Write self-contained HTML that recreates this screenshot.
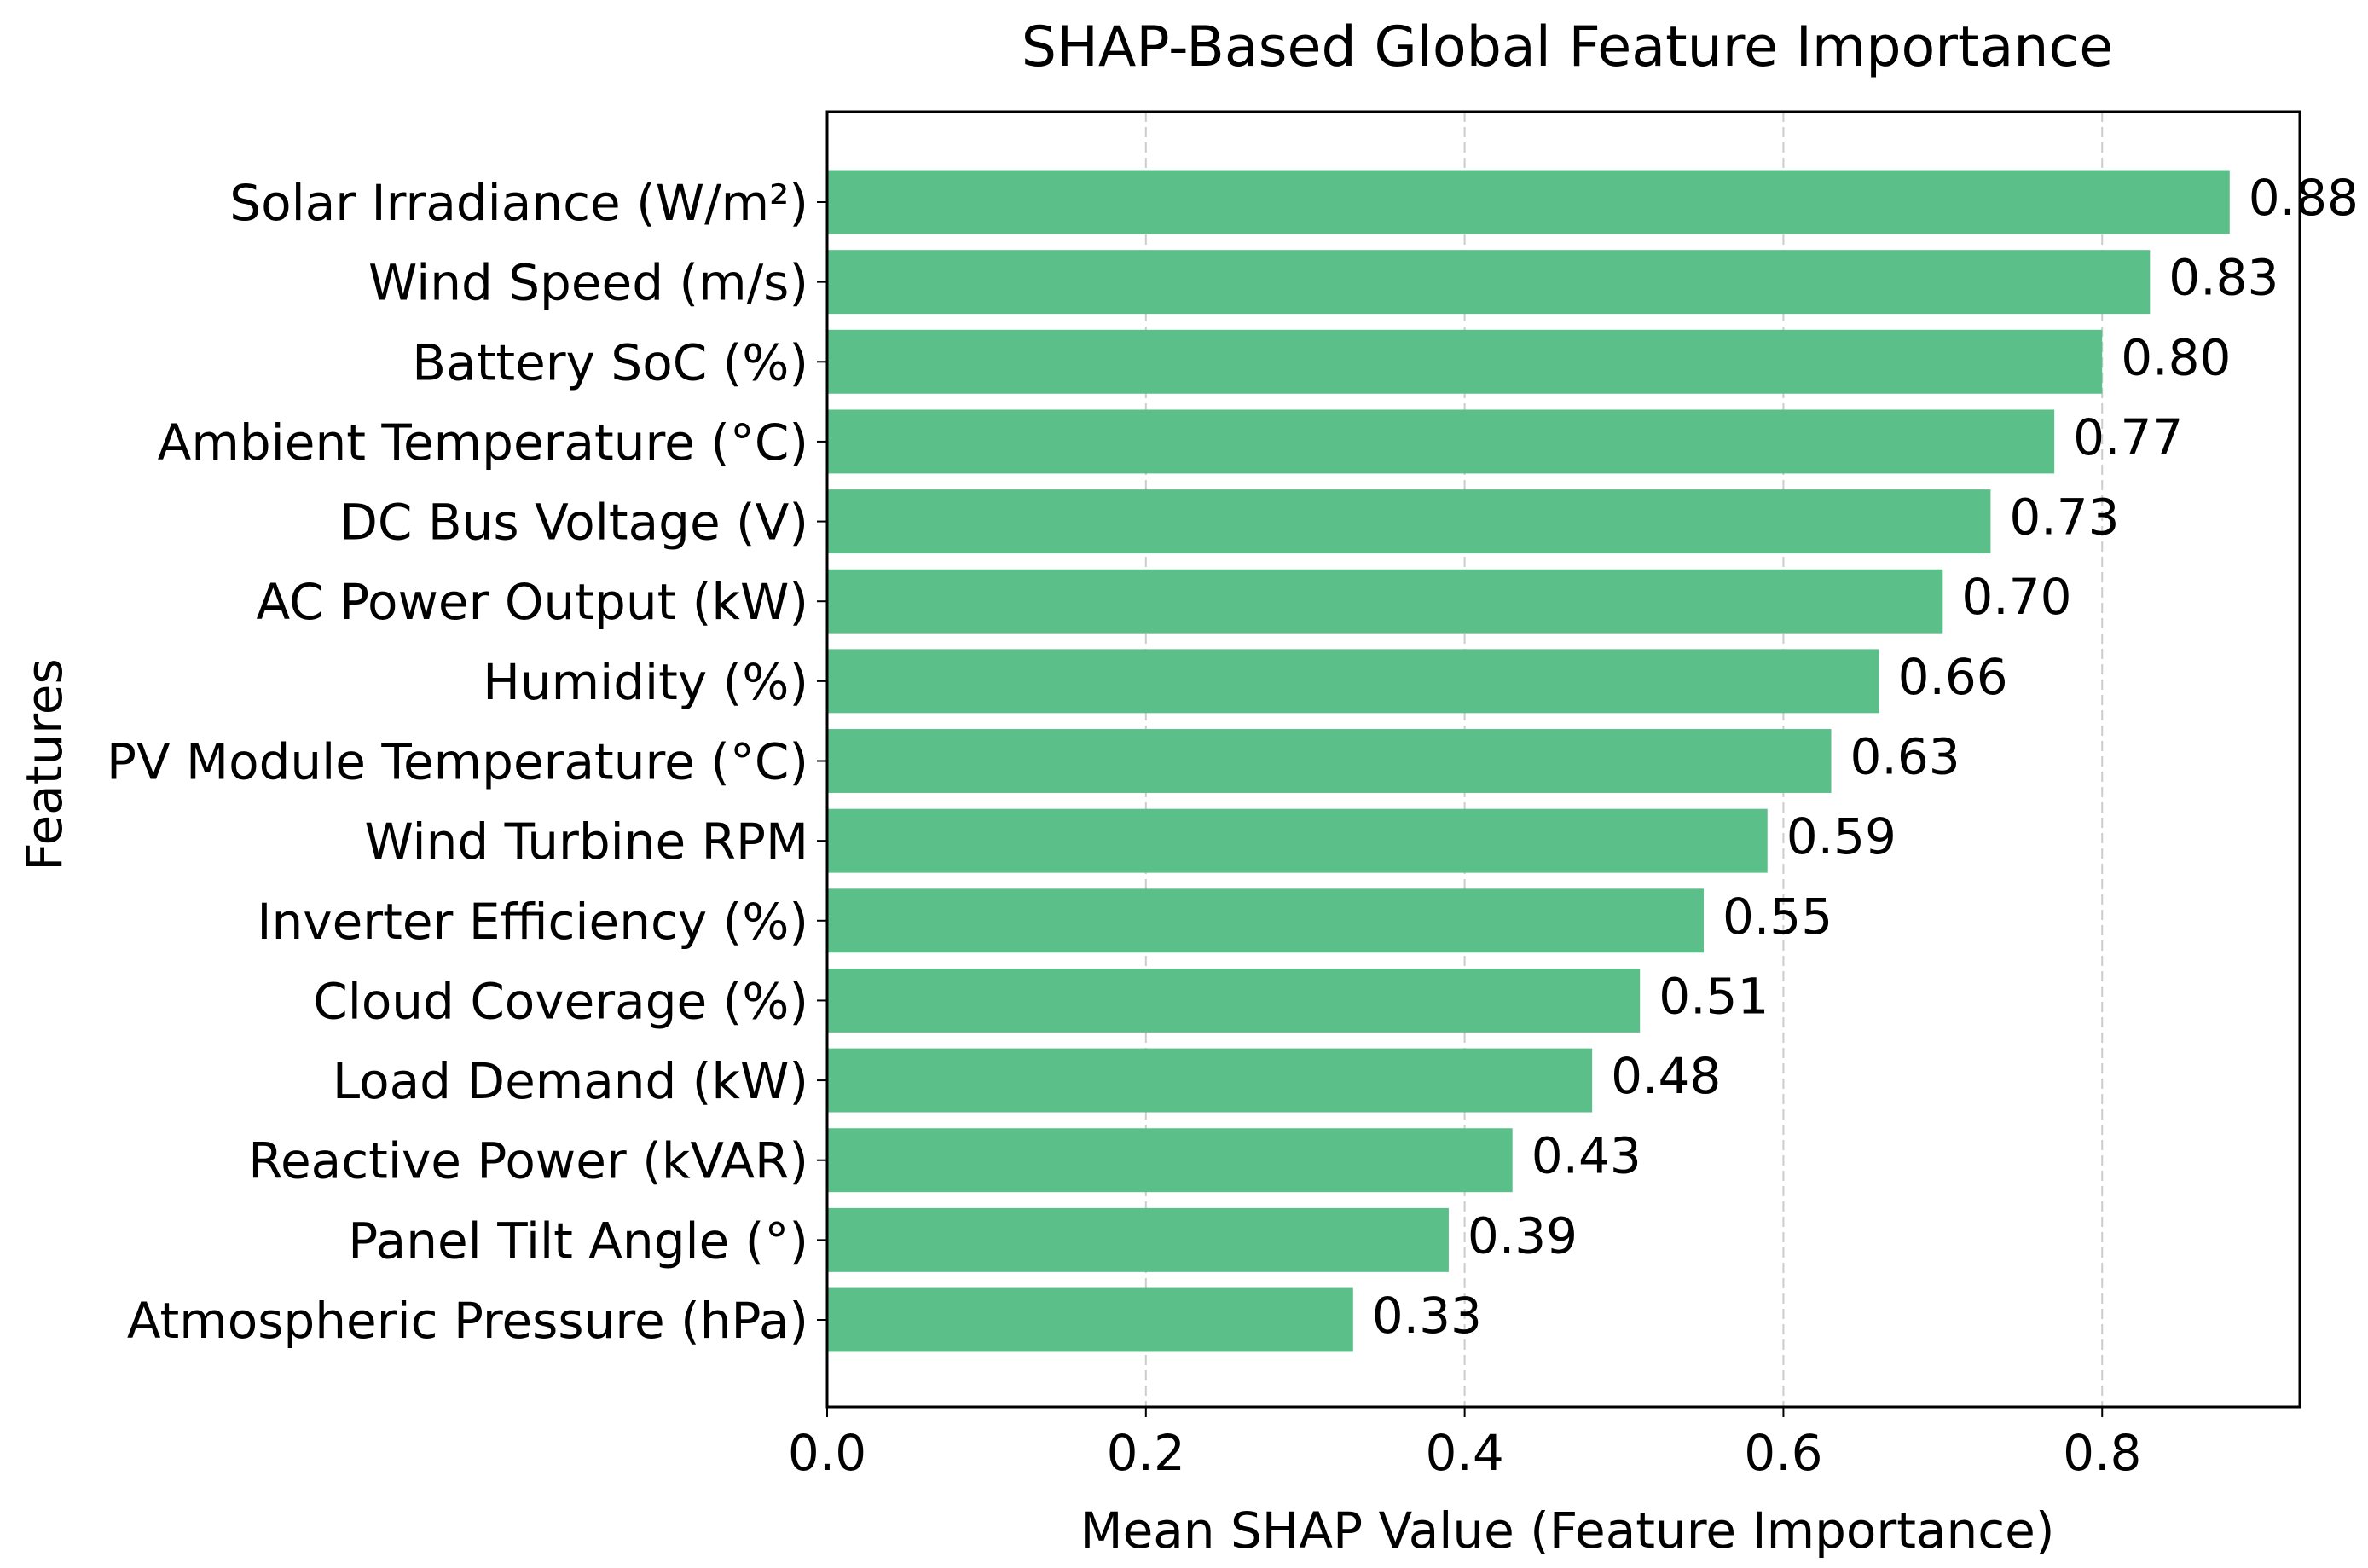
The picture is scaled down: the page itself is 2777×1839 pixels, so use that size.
<!DOCTYPE html>
<html><head><meta charset="utf-8"><style>
html,body{margin:0;padding:0;background:#fff;}
svg{display:block;font-family:"DejaVu Sans","Liberation Sans",sans-serif;}
</style></head><body>
<svg id="chart" width="2777" height="1839" viewBox="0 0 2777 1839" xmlns="http://www.w3.org/2000/svg">
<rect width="2777" height="1839" fill="#fff"/>
<text x="1838" y="77" font-size="65" text-anchor="middle" fill="#000">SHAP-Based Global Feature Importance</text>
<g id="grid"></g>
<g id="bars"></g>
<rect x="970" y="131" width="1727" height="1519" fill="none" stroke="#000" stroke-width="3"/>
<g id="xticks"></g>
<g id="yticks"></g>
<text x="1838" y="1815" font-size="58" text-anchor="middle" fill="#000">Mean SHAP Value (Feature Importance)</text>
<text transform="translate(72,897) rotate(-90)" font-size="58" text-anchor="middle" fill="#000">Features</text>
</svg>
<script>
const categories = ["Solar Irradiance (W/m²)","Wind Speed (m/s)","Battery SoC (%)","Ambient Temperature (°C)","DC Bus Voltage (V)","AC Power Output (kW)","Humidity (%)","PV Module Temperature (°C)","Wind Turbine RPM","Inverter Efficiency (%)","Cloud Coverage (%)","Load Demand (kW)","Reactive Power (kVAR)","Panel Tilt Angle (°)","Atmospheric Pressure (hPa)"];
const values = [0.88,0.83,0.80,0.77,0.73,0.70,0.66,0.63,0.59,0.55,0.51,0.48,0.43,0.39,0.33];
const valueLabels = ["0.88","0.83","0.80","0.77","0.73","0.70","0.66","0.63","0.59","0.55","0.51","0.48","0.43","0.39","0.33"];
const xTicks = [0,0.2,0.4,0.6,0.8];
const xTickLabels = ["0.0","0.2","0.4","0.6","0.8"];

const NS="http://www.w3.org/2000/svg";
const L=970,R=2697,T=131,B=1650;
const xMax=Math.max(...values)*1.05;
const x=v=>L+v/xMax*(R-L);
const n=categories.length;
const y0=237, pitch=(1548-237)/14;
const y=i=>y0+i*pitch;
const bh=0.8*pitch;
function mk(tag,attrs,parent){const e=document.createElementNS(NS,tag);for(const k in attrs)e.setAttribute(k,attrs[k]);parent.appendChild(e);return e;}
const grid=document.getElementById('grid'),bars=document.getElementById('bars'),xt=document.getElementById('xticks'),yt=document.getElementById('yticks');
xTicks.forEach((t,i)=>{
  const g=mk('line',{x1:x(t),x2:x(t),y1:T,y2:B,stroke:'#cccccc','stroke-width':2,'stroke-dasharray':'12,6'},grid);
  
  
  const tk=mk('line',{x1:x(t),x2:x(t),y1:B,y2:B+12,stroke:'#000','stroke-width':2},xt);
  
  
  const tl=mk('text',{x:x(t),y:B+74,'font-size':58,'text-anchor':'middle',fill:'#000'},xt);
  tl.textContent=xTickLabels[i];
  
  
});
categories.forEach((c,i)=>{
  const cy=y(i);
  const r=mk('rect',{x:L,y:cy-bh/2,width:x(values[i])-L,height:bh,fill:'#5abf88'},bars);
  
  
  const vl=mk('text',{x:x(values[i])+22,y:cy+15,'font-size':58,fill:'#000'},bars);
  vl.textContent=valueLabels[i];
  
  
  const tk=mk('line',{x1:L-12,x2:L,y1:cy,y2:cy,stroke:'#000','stroke-width':2},yt);
  
  
  const tl=mk('text',{x:L-22,y:cy+21,'font-size':58,'text-anchor':'end',fill:'#000'},yt);
  tl.textContent=c;
  
  
});
</script>
</body></html>
